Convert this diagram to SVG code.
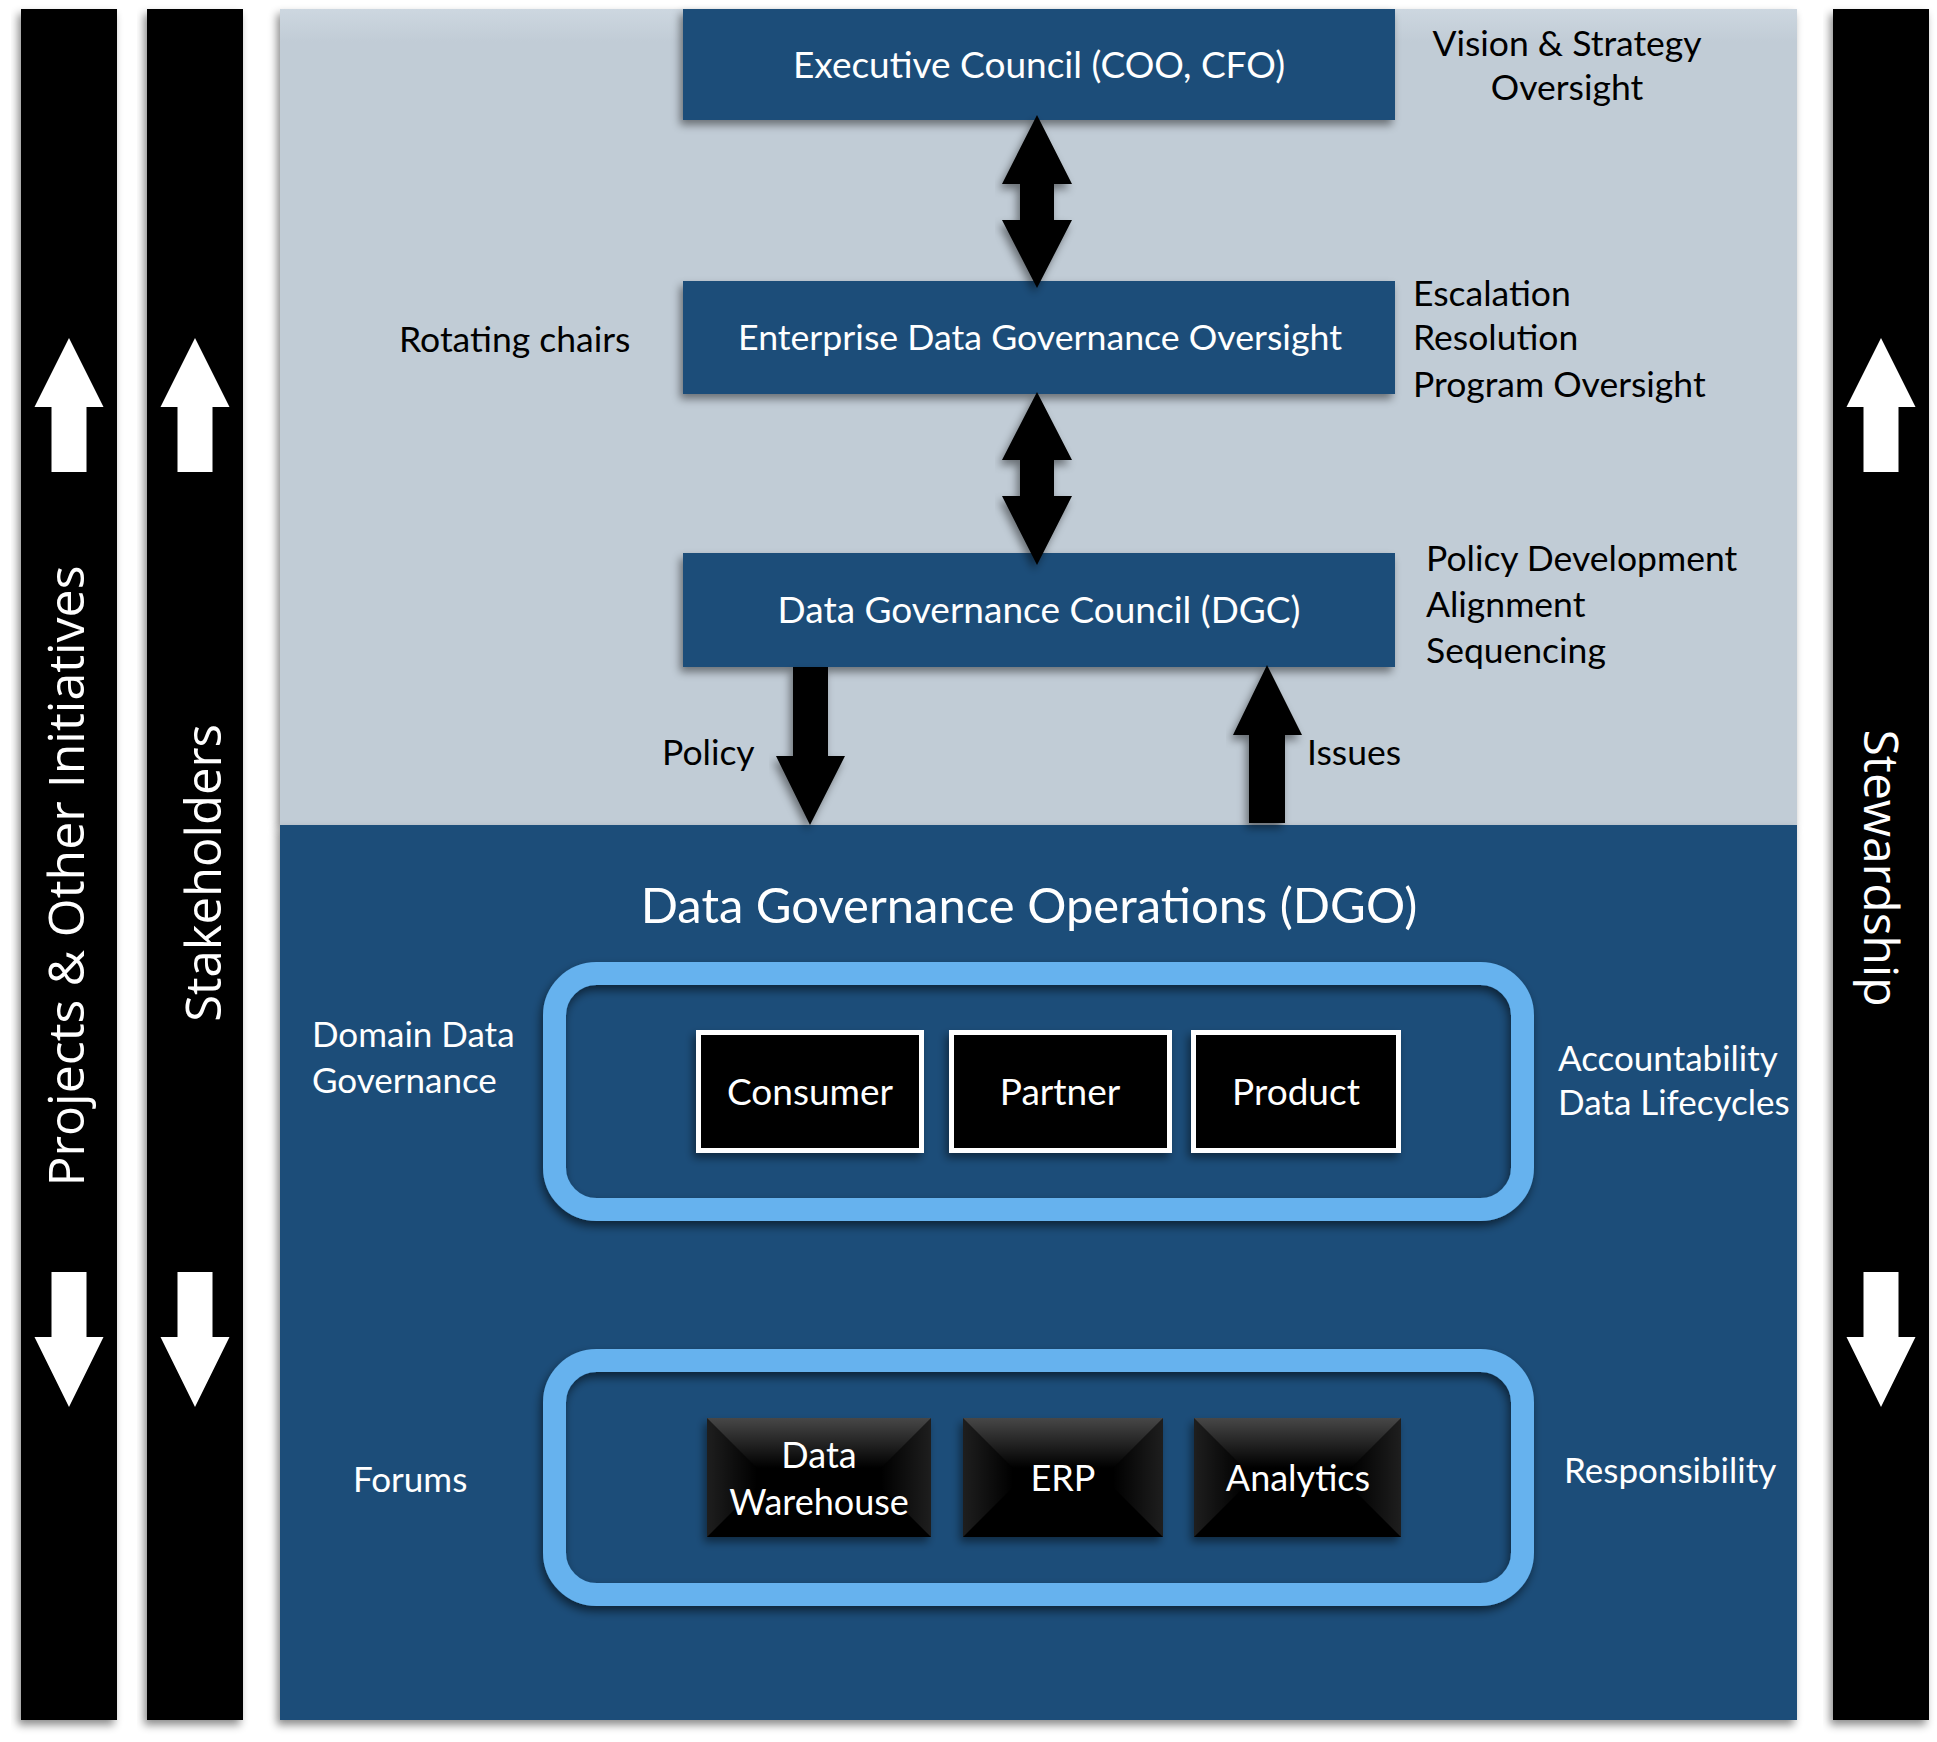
<svg xmlns="http://www.w3.org/2000/svg" width="1937" height="1742" viewBox="0 0 1937 1742">
<defs>
<style>
.gs{font-family:Lato,"Liberation Sans",sans-serif}
.blk{fill:#000;font-size:35.5px}
.wht{fill:#fff}
.box{fill:#1F4E79}
.bt{fill:#fff;font-size:37px;text-anchor:middle}
.wl{fill:#fff;font-size:35px}
.rot{font-family:"Open Sans","DejaVu Sans",sans-serif;font-size:48px;fill:#fff;text-anchor:middle}
.bar{fill:#000}
.arr{fill:#000}
.ring{fill:none;stroke:#66B2EE;stroke-width:23}
.dom{fill:#000;stroke:#fff;stroke-width:5}
</style>
<filter id="sh" x="-10%" y="-10%" width="120%" height="125%">
<feDropShadow dx="-3" dy="5" stdDeviation="4" flood-color="#000" flood-opacity="0.45"/>
</filter>
<filter id="sh2" x="-10%" y="-10%" width="120%" height="125%">
<feDropShadow dx="-2" dy="5" stdDeviation="5" flood-color="#000" flood-opacity="0.55"/>
</filter>
<linearGradient id="lightBg" x1="0" y1="0" x2="0" y2="1">
<stop offset="0" stop-color="#CDD7E0"/>
<stop offset="0.04" stop-color="#C1CCD6"/>
<stop offset="1" stop-color="#C1CCD6"/>
</linearGradient>
<linearGradient id="bevTop" x1="0" y1="0" x2="0" y2="1">
<stop offset="0" stop-color="#fff" stop-opacity="0.28"/>
<stop offset="1" stop-color="#fff" stop-opacity="0"/>
</linearGradient>
<linearGradient id="bevL" x1="0" y1="0" x2="1" y2="0">
<stop offset="0" stop-color="#fff" stop-opacity="0.12"/>
<stop offset="1" stop-color="#fff" stop-opacity="0"/>
</linearGradient>
<linearGradient id="bevR" x1="1" y1="0" x2="0" y2="0">
<stop offset="0" stop-color="#fff" stop-opacity="0.12"/>
<stop offset="1" stop-color="#fff" stop-opacity="0"/>
</linearGradient>
</defs>
<rect width="1937" height="1742" fill="#fff"/>

<!-- Side bars -->
<g id="bar-projects">
<rect class="bar" x="21" y="9" width="96" height="1711" filter="url(#sh)"/>
<polygon fill="#fff" points="69,338 103.5,407 86.5,407 86.5,472 51.5,472 51.5,407 34.5,407"/>
<polygon fill="#fff" points="51.5,1272 86.5,1272 86.5,1337 103.5,1337 69,1407 34.5,1337 51.5,1337"/>
<text class="rot" transform="translate(84,876) rotate(-90)" style="font-size:50px">Projects &amp; Other Initiatives</text>
</g>
<g id="bar-stakeholders">
<rect class="bar" x="147" y="9" width="96" height="1711" filter="url(#sh)"/>
<polygon fill="#fff" points="195,338 229.5,407 212.5,407 212.5,472 177.5,472 177.5,407 160.5,407"/>
<polygon fill="#fff" points="177.5,1272 212.5,1272 212.5,1337 229.5,1337 195,1407 160.5,1337 177.5,1337"/>
<text class="rot" transform="translate(221,873) rotate(-90)" style="font-size:49px">Stakeholders</text>
</g>
<g id="bar-stewardship">
<rect class="bar" x="1833" y="9" width="96" height="1711" filter="url(#sh)"/>
<polygon fill="#fff" points="1881,338 1915.5,407 1898.5,407 1898.5,472 1863.5,472 1863.5,407 1846.5,407"/>
<polygon fill="#fff" points="1863.5,1272 1898.5,1272 1898.5,1337 1915.5,1337 1881,1407 1846.5,1337 1863.5,1337"/>
<text class="rot" transform="translate(1864,868) rotate(90)">Stewardship</text>
</g>

<!-- Panels -->
<g id="panel-governance">
<rect x="280" y="9" width="1517" height="816" fill="url(#lightBg)" filter="url(#sh)"/>
</g>
<g id="panel-dgo">
<rect x="280" y="825" width="1517" height="895" fill="#1F4E79" filter="url(#sh)"/>
<text class="gs wht" x="1029" y="923" font-size="49" text-anchor="middle">Data Governance Operations (DGO)</text>
</g>

<!-- Governance nodes -->
<g id="node-executive">
<rect class="box" x="683" y="9" width="712" height="111" filter="url(#sh)"/>
<text class="gs bt" x="1039" y="78">Executive Council (COO, CFO)</text>
</g>
<g id="node-edgo">
<rect class="box" x="683" y="281" width="712" height="113" filter="url(#sh)"/>
<text class="gs bt" x="1040" y="350" style="font-size:35.7px">Enterprise Data Governance Oversight</text>
</g>
<g id="node-dgc">
<rect class="box" x="683" y="553" width="712" height="114" filter="url(#sh)"/>
<text class="gs bt" x="1039" y="623">Data Governance Council (DGC)</text>
</g>

<!-- Labels -->
<g id="labels">
<text class="gs blk" x="1567" y="56" text-anchor="middle">Vision &amp; Strategy</text>
<text class="gs blk" x="1567" y="100" text-anchor="middle">Oversight</text>
<text class="gs blk" x="399" y="352">Rotating chairs</text>
<text class="gs blk" x="1413" y="306">Escalation</text>
<text class="gs blk" x="1413" y="350">Resolution</text>
<text class="gs blk" x="1413" y="397">Program Oversight</text>
<text class="gs blk" x="1426" y="571">Policy Development</text>
<text class="gs blk" x="1426" y="617">Alignment</text>
<text class="gs blk" x="1426" y="663">Sequencing</text>
<text class="gs blk" x="662" y="765">Policy</text>
<text class="gs blk" x="1307" y="765">Issues</text>
<text class="gs wl" x="312" y="1047">Domain Data</text>
<text class="gs wl" x="312" y="1093">Governance</text>
<text class="gs wl" x="1558" y="1071">Accountability</text>
<text class="gs wl" x="1558" y="1115">Data Lifecycles</text>
<text class="gs wl" x="353" y="1492">Forums</text>
<text class="gs wl" x="1564" y="1483">Responsibility</text>
</g>

<!-- Connectors -->
<g id="connectors">
<polygon class="arr" filter="url(#sh)" points="1037,115 1072,184 1054,184 1054,220 1072,220 1037,288 1002,220 1020,220 1020,184 1002,184"/>
<polygon class="arr" filter="url(#sh)" points="1037,392 1072,460 1054,460 1054,496 1072,496 1037,565 1002,496 1020,496 1020,460 1002,460"/>
<polygon class="arr" filter="url(#sh)" points="793,667 828,667 828,756 845,756 810,825 776,756 793,756"/>
<polygon class="arr" filter="url(#sh)" points="1267,665 1302,735 1285,735 1285,823 1249,823 1249,735 1233,735"/>
</g>

<!-- Domain group -->
<g id="group-domain">
<rect class="ring" x="554.5" y="973.5" width="968" height="236" rx="42" filter="url(#sh2)"/>
</g>
<g id="node-consumer">
<rect class="dom" x="698.5" y="1032.5" width="223" height="118" filter="url(#sh)"/>
<text class="gs bt" x="810" y="1105">Consumer</text>
</g>
<g id="node-partner">
<rect class="dom" x="951.5" y="1032.5" width="218" height="118" filter="url(#sh)"/>
<text class="gs bt" x="1060" y="1105">Partner</text>
</g>
<g id="node-product">
<rect class="dom" x="1193.5" y="1032.5" width="205" height="118" filter="url(#sh)"/>
<text class="gs bt" x="1296" y="1105">Product</text>
</g>

<!-- Forums group -->
<g id="group-forums">
<rect class="ring" x="554.5" y="1360.5" width="968" height="234" rx="42" filter="url(#sh2)"/>
</g>
<g id="node-dw">
<rect x="707" y="1418" width="224" height="119" fill="#050505" filter="url(#sh)"/>
<polygon fill="url(#bevTop)" points="707,1418 931,1418 881,1468 757,1468"/>
<polygon fill="url(#bevL)" points="707,1418 757,1468 757,1487 707,1537"/>
<polygon fill="url(#bevR)" points="931,1418 881,1468 881,1487 931,1537"/>
<text class="gs bt" x="819" y="1468" style="font-size:36px">Data</text>
<text class="gs bt" x="819" y="1515" style="font-size:36px">Warehouse</text>
</g>
<g id="node-erp">
<rect x="963" y="1418" width="200" height="119" fill="#050505" filter="url(#sh)"/>
<polygon fill="url(#bevTop)" points="963,1418 1163,1418 1113,1468 1013,1468"/>
<polygon fill="url(#bevL)" points="963,1418 1013,1468 1013,1487 963,1537"/>
<polygon fill="url(#bevR)" points="1163,1418 1113,1468 1113,1487 1163,1537"/>
<text class="gs bt" x="1063" y="1491" style="font-size:36px">ERP</text>
</g>
<g id="node-analytics">
<rect x="1194" y="1418" width="207" height="119" fill="#050505" filter="url(#sh)"/>
<polygon fill="url(#bevTop)" points="1194,1418 1401,1418 1351,1468 1244,1468"/>
<polygon fill="url(#bevL)" points="1194,1418 1244,1468 1244,1487 1194,1537"/>
<polygon fill="url(#bevR)" points="1401,1418 1351,1468 1351,1487 1401,1537"/>
<text class="gs bt" x="1298" y="1491" style="font-size:36px">Analytics</text>
</g>
</svg>
